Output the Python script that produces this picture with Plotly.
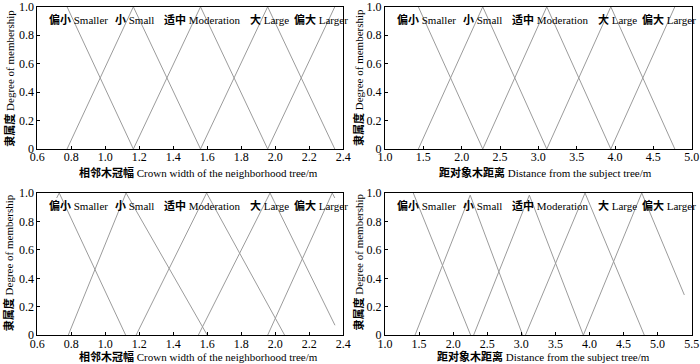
import plotly.graph_objects as go

# ---------------- data ----------------
labels_cn = ["偏小", "小", "适中", "大", "偏大"]
labels_en = ["Smaller", "Small", "Moderation", "Large", "Larger"]

# Panel 1: crown width of neighborhood tree (top-left)
p1_smaller_x = [0.775, 1.165]
p1_smaller_y = [1.0, 0.0]
p1_small_x = [0.775, 1.165, 1.56]
p1_small_y = [0.0, 1.0, 0.0]
p1_moder_x = [1.165, 1.56, 1.955]
p1_moder_y = [0.0, 1.0, 0.0]
p1_large_x = [1.56, 1.955, 2.35]
p1_large_y = [0.0, 1.0, 0.0]
p1_larger_x = [1.955, 2.35]
p1_larger_y = [0.0, 1.0]

# Panel 2: distance from subject tree (top-right)
p2_smaller_x = [1.435, 2.275]
p2_smaller_y = [1.0, 0.0]
p2_small_x = [1.435, 2.275, 3.11]
p2_small_y = [0.0, 1.0, 0.0]
p2_moder_x = [2.275, 3.11, 3.945]
p2_moder_y = [0.0, 1.0, 0.0]
p2_large_x = [3.11, 3.945, 4.78]
p2_large_y = [0.0, 1.0, 0.0]
p2_larger_x = [3.945, 4.78]
p2_larger_y = [0.0, 1.0]

# Panel 3: crown width, optimized (bottom-left)
p3_smaller_x = [0.714, 0.729, 1.12]
p3_smaller_y = [0.965, 1.0, 0.0]
p3_small_x = [0.782, 1.122, 1.60]
p3_small_y = [0.0, 1.0, 0.0]
p3_moder_x = [1.181, 1.596, 2.055]
p3_moder_y = [0.0, 1.0, 0.0]
p3_large_x = [1.547, 1.969, 2.351]
p3_large_y = [0.0, 1.0, 0.07]
p3_larger_x = [1.955, 2.335, 2.35]
p3_larger_y = [0.0, 1.0, 0.965]

# Panel 4: distance, optimized (bottom-right)
p4_smaller_x = [1.415, 2.257]
p4_smaller_y = [1.0, 0.0]
p4_small_x = [1.44, 2.25, 3.02]
p4_small_y = [0.0, 0.985, 0.0]
p4_moder_x = [2.30, 3.118, 3.91]
p4_moder_y = [0.0, 0.985, 0.0]
p4_large_x = [3.06, 3.935, 4.805]
p4_large_y = [0.0, 1.0, 0.0]
p4_larger_x = [3.91, 4.767, 5.392]
p4_larger_y = [0.0, 1.0, 0.283]

xticks_cw = [0.6, 0.8, 1.0, 1.2, 1.4, 1.6, 1.8, 2.0, 2.2, 2.4]
xticks_d_top = [1.0, 1.5, 2.0, 2.5, 3.0, 3.5, 4.0, 4.5, 5.0]
xticks_d_bot = [1.0, 1.5, 2.0, 2.5, 3.0, 3.5, 4.0, 4.5, 5.0, 5.5]
yticks = [0, 0.2, 0.4, 0.6, 0.8, 1.0]
yticks_text = ["0", "0.2", "0.4", "0.6", "0.8", "1.0"]

xtitle_cw_cn, xtitle_cw_en = "相邻木冠幅", "Crown width of the neighborhood tree/m"
xtitle_d_cn, xtitle_d_en = "距对象木距离", "Distance from the subject tree/m"
ytitle_cn, ytitle_en = "隶属度", "Degree of membership"

# ---------------- style ----------------
FONT = "Liberation Serif, 'Noto Sans CJK SC', serif"
LINE_COLOR = "rgb(155,155,155)"
W, H = 700, 364

fig = go.Figure()

panels = [
    ("x", "y", [(p1_smaller_x, p1_smaller_y), (p1_small_x, p1_small_y), (p1_moder_x, p1_moder_y),
                (p1_large_x, p1_large_y), (p1_larger_x, p1_larger_y)]),
    ("x2", "y2", [(p2_smaller_x, p2_smaller_y), (p2_small_x, p2_small_y), (p2_moder_x, p2_moder_y),
                  (p2_large_x, p2_large_y), (p2_larger_x, p2_larger_y)]),
    ("x3", "y3", [(p3_smaller_x, p3_smaller_y), (p3_small_x, p3_small_y), (p3_moder_x, p3_moder_y),
                  (p3_large_x, p3_large_y), (p3_larger_x, p3_larger_y)]),
    ("x4", "y4", [(p4_smaller_x, p4_smaller_y), (p4_small_x, p4_small_y), (p4_moder_x, p4_moder_y),
                  (p4_large_x, p4_large_y), (p4_larger_x, p4_larger_y)]),
]

for xa, ya, series in panels:
    for (sx, sy), cn, en in zip(series, labels_cn, labels_en):
        fig.add_trace(go.Scatter(x=sx, y=sy, mode="lines", xaxis=xa, yaxis=ya,
                                 line=dict(color=LINE_COLOR, width=1),
                                 name=f"{cn} {en}", showlegend=False, hoverinfo="skip"))

# domains (pixel based)
left_dom = [37.3 / W, 343.3 / W]
right_dom = [385.0 / W, 691.7 / W]
top_dom = [1 - 149.0 / H, 1 - 6.8 / H]
bot_dom = [1 - 335.2 / H, 1 - 193.0 / H]

tickfont = dict(family=FONT, size=12, color="black")


def xaxis(domain, rng, ticks, anchor):
    return dict(domain=domain, range=rng, tickvals=ticks,
                ticktext=[f"{t:.1f}" for t in ticks], anchor=anchor, automargin=False,
                showline=True, linecolor="black", linewidth=1, mirror=True,
                ticks="inside", ticklen=3, tickcolor="black", tickwidth=1,
                ticklabelstandoff=-3,
                showgrid=False, zeroline=False, tickfont=tickfont, fixedrange=True)


def yaxis(domain, anchor):
    return dict(domain=domain, range=[0, 1], tickvals=yticks, ticktext=yticks_text,
                anchor=anchor, automargin=False, showline=True, linecolor="black",
                linewidth=1, mirror=True,
                ticks="inside", ticklen=3, tickcolor="black", tickwidth=1,
                showgrid=False, zeroline=False, tickfont=tickfont, fixedrange=True)


fig.update_layout(
    template="none",
    width=W, height=H,
    margin=dict(l=0, r=0, t=0, b=0, autoexpand=False),
    paper_bgcolor="white", plot_bgcolor="white",
    font=dict(family=FONT, size=11, color="black"),
    xaxis=xaxis(left_dom, [0.6, 2.4], xticks_cw, "y"),
    yaxis=yaxis(top_dom, "x"),
    xaxis2=xaxis(right_dom, [1.0, 5.0], xticks_d_top, "y2"),
    yaxis2=yaxis(top_dom, "x2"),
    xaxis3=xaxis(left_dom, [0.6, 2.4], xticks_cw, "y3"),
    yaxis3=yaxis(bot_dom, "x3"),
    xaxis4=xaxis(right_dom, [1.0, 5.5], xticks_d_bot, "y4"),
    yaxis4=yaxis(bot_dom, "x4"),
)

annotations = []
label_pos = [0.031, 0.248, 0.408, 0.689, 0.833]
TXT = dict(family=FONT, size=11, color="black")


def mixed(cn, en):
    return f"<b>{cn}</b> {en}"


for xa, ya in [("x", "y"), ("x2", "y2"), ("x3", "y3"), ("x4", "y4")]:
    for cn, en, px in zip(labels_cn, labels_en, label_pos):
        annotations.append(dict(text=mixed(cn, en), xref=f"{xa} domain", yref=f"{ya} domain",
                                x=px, y=0.91, xanchor="left", yanchor="middle",
                                showarrow=False, font=TXT))

# axis titles
for cx, cy, cn, en in [(0.284, 1 - 172 / H, xtitle_cw_cn, xtitle_cw_en),
                       (0.779, 1 - 172 / H, xtitle_d_cn, xtitle_d_en),
                       (0.284, 1 - 356.5 / H, xtitle_cw_cn, xtitle_cw_en),
                       (0.777, 1 - 356.5 / H, xtitle_d_cn, xtitle_d_en)]:
    annotations.append(dict(text=mixed(cn, en), xref="paper", yref="paper", x=cx, y=cy,
                            xanchor="center", yanchor="middle", showarrow=False, font=TXT))
for cx, cy in [(8.7 / W, 1 - 78 / H), (358 / W, 1 - 78 / H),
               (8.7 / W, 1 - 262.5 / H), (358 / W, 1 - 262.5 / H)]:
    annotations.append(dict(text=mixed(ytitle_cn, ytitle_en), xref="paper", yref="paper",
                            x=cx, y=cy, xanchor="center", yanchor="middle", textangle=-90,
                            showarrow=False, font=TXT))

fig.update_layout(annotations=annotations)
fig.write_html("out.html", config={"displayModeBar": False},
               post_script="document.body.style.margin='0';document.body.style.padding='0';")
